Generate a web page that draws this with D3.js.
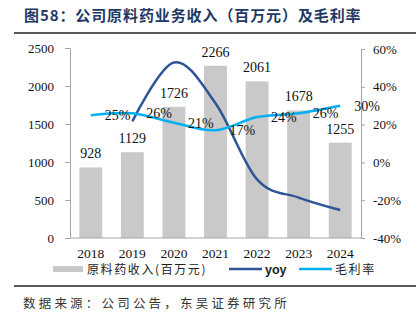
<!DOCTYPE html>
<head>
  <meta charset="utf-8">
  <title>原料药业务收入</title>
</head>
<style>
html, body {
  margin: 0;
  padding: 0;
  background: #ffffff;
}
svg text {
  font-family: "Liberation Serif", "Times New Roman", serif;
}
svg text.cjk {
  font-family: "Noto Sans CJK SC", sans-serif;
}
svg text.sans {
  font-family: "Liberation Sans", Arial, sans-serif;
}
</style>
<body>
<svg id="chart" width="418" height="323"></svg>

<script src="https://d3js.org/d3.v7.min.js"></script>
<script>
// data
var years = ["2018", "2019", "2020", "2021", "2022", "2023", "2024"];
var revenue = [928, 1129, 1726, 2266, 2061, 1678, 1255];
var yoy = [null, 21.7, 52.9, 31.3, -9.0, -18.6, -25.2];
var margin = [25, 26, 21, 17, 24, 26, 30];
var leftTicks = [0, 500, 1000, 1500, 2000, 2500];
var rightTicks = [-40, -20, 0, 20, 40, 60];

var svg = d3.select("#chart");

// title + rules
svg.append("text")
  .attr("class", "cjk")
  .attr("x", 24).attr("y", 21)
  .attr("font-size", 15).attr("font-weight", "bold")
  .attr("letter-spacing", 0.9)
  .attr("fill", "#1f3864")
  .text("图58：公司原料药业务收入（百万元）及毛利率");

svg.append("line")
  .attr("x1", 14).attr("x2", 416).attr("y1", 33).attr("y2", 33)
  .attr("stroke", "#222").attr("stroke-width", 1.5);
svg.append("line")
  .attr("x1", 14).attr("x2", 416).attr("y1", 286).attr("y2", 286)
  .attr("stroke", "#222").attr("stroke-width", 1.5);

svg.append("text")
  .attr("class", "cjk")
  .attr("x", 23).attr("y", 308)
  .attr("font-size", 12.5)
  .attr("letter-spacing", 3.2)
  .attr("fill", "#333")
  .text("数据来源：公司公告，东吴证券研究所");

// scales
var x = d3.scaleBand().domain(years).range([70, 361]).paddingInner(0.45).paddingOuter(0.225);
var yL = d3.scaleLinear().domain([0, 2500]).range([238, 48]);
var yR = d3.scaleLinear().domain([-40, 60]).range([238, 49]);
var cx = function(d) { return x(d) + x.bandwidth() / 2; };

// axes
var gL = svg.append("g").attr("transform", "translate(70,0)")
  .call(d3.axisLeft(yL).tickValues(leftTicks).tickSize(5).tickPadding(11).tickFormat(d3.format("d")));
var gR = svg.append("g").attr("transform", "translate(361,0)")
  .call(d3.axisRight(yR).tickValues(rightTicks).tickSize(4).tickPadding(8)
        .tickFormat(function(d) { return d + "%"; }));
[gL, gR].forEach(function(g) {
  g.select(".domain").attr("stroke", "#a6a6a6");
  g.selectAll(".tick line").attr("stroke", "#a6a6a6");
  g.selectAll(".tick text").attr("font-size", 13).attr("fill", "#111");
});

// bars
svg.append("g").selectAll("rect")
  .data(revenue)
  .enter().append("rect")
    .attr("x", function(d, i) { return x(years[i]); })
    .attr("width", x.bandwidth())
    .attr("y", function(d) { return yL(d); })
    .attr("height", function(d) { return yL(0) - yL(d); })
    .attr("fill", "#c9c9c9");

// x axis line and labels
svg.append("line")
  .attr("x1", 70).attr("x2", 361).attr("y1", 238).attr("y2", 238)
  .attr("stroke", "#a6a6a6");
svg.append("g").selectAll("text")
  .data(years)
  .enter().append("text")
    .attr("x", function(d) { return cx(d); })
    .attr("y", 258)
    .attr("text-anchor", "middle")
    .attr("font-size", 13.5)
    .attr("fill", "#111")
    .text(function(d) { return d; });

// yoy line (starts in 2019)
var yoyPts = years.map(function(d, i) { return [cx(d), yoy[i]]; }).filter(function(p) { return p[1] !== null; });
svg.append("path")
  .datum(yoyPts)
  .attr("fill", "none")
  .attr("stroke", "#2f5597")
  .attr("stroke-width", 2.5)
  .attr("d", d3.line().x(function(p) { return p[0]; }).y(function(p) { return yR(p[1]); })
                      .curve(d3.curveCatmullRom.alpha(0)));

// margin line
svg.append("path")
  .datum(margin)
  .attr("fill", "none")
  .attr("stroke", "#00b0f0")
  .attr("stroke-width", 2.5)
  .attr("d", d3.line().x(function(d, i) { return cx(years[i]); }).y(function(d) { return yR(d); })
                      .curve(d3.curveCatmullRom.alpha(0)));

// bar value labels
svg.append("g").selectAll("text")
  .data(revenue)
  .enter().append("text")
    .attr("x", function(d, i) { return cx(years[i]); })
    .attr("y", function(d) { return yL(d) - 9; })
    .attr("text-anchor", "middle")
    .attr("font-size", 14)
    .attr("fill", "#111")
    .text(function(d) { return d; });

// margin labels
svg.append("g").selectAll("text")
  .data(margin)
  .enter().append("text")
    .attr("x", function(d, i) { return cx(years[i]) + 14; })
    .attr("y", function(d) { return yR(d) + 5; })
    .attr("font-size", 14)
    .attr("fill", "#111")
    .text(function(d) { return d + "%"; });

// legend
var lg = svg.append("g").attr("transform", "translate(0,269)");
lg.append("rect").attr("x", 53).attr("y", -3).attr("width", 30).attr("height", 6).attr("fill", "#c9c9c9");
lg.append("text").attr("class", "cjk").attr("x", 87).attr("y", 5).attr("font-size", 12)
  .attr("letter-spacing", 1.6).attr("fill", "#222")
  .text("原料药收入(百万元)");
lg.append("line").attr("x1", 229).attr("x2", 262).attr("y1", 0).attr("y2", 0)
  .attr("stroke", "#2f5597").attr("stroke-width", 2.5);
lg.append("text").attr("class", "sans").attr("x", 265).attr("y", 5).attr("font-size", 12.5)
  .attr("font-weight", "bold").attr("fill", "#222").text("yoy");
lg.append("line").attr("x1", 299).attr("x2", 332).attr("y1", 0).attr("y2", 0)
  .attr("stroke", "#00b0f0").attr("stroke-width", 2.5);
lg.append("text").attr("class", "cjk").attr("x", 335).attr("y", 5).attr("font-size", 12)
  .attr("letter-spacing", 1.6).attr("fill", "#222")
  .text("毛利率");
</script>
</body>
